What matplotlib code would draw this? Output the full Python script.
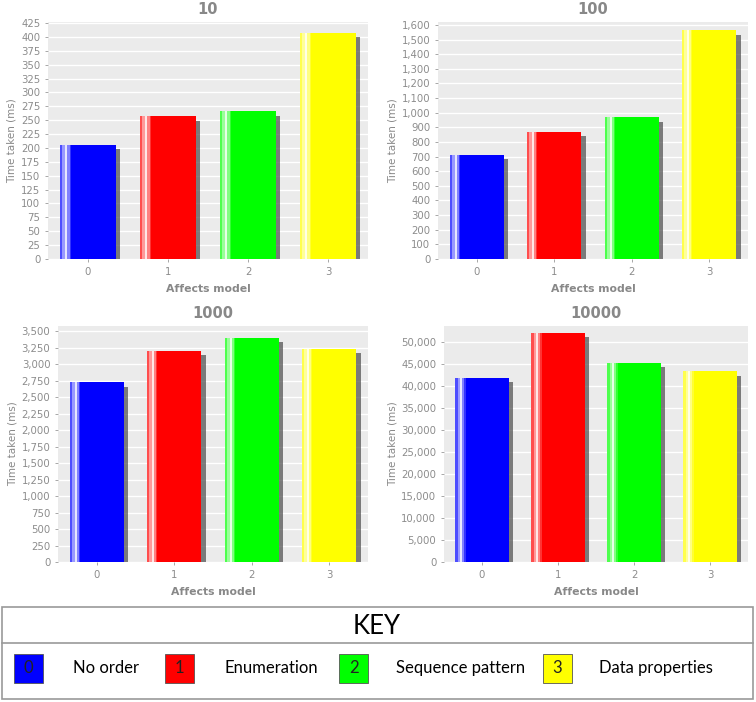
import matplotlib
matplotlib.use("Agg")
import matplotlib.pyplot as plt
import matplotlib.patheffects as pe
import matplotlib.ticker as mticker
from matplotlib.colors import to_rgb
import numpy as np

categories = ["0", "1", "2", "3"]
titles = ["10", "100", "1000", "10000"]
values_10 = [205, 257, 266, 408]
values_100 = [710, 870, 968, 1562]
values_1000 = [2725, 3200, 3405, 3230]
values_10000 = [41800, 52000, 45300, 43300]
bar_colors = ["#0000FF", "#FF0000", "#00FF00", "#FFFF00"]
key_labels = ["No order", "Enumeration", "Sequence pattern", "Data properties"]

ylims = [427, 1620, 3580, 53600]
ysteps = [25, 100, 250, 5000]
all_values = [values_10, values_100, values_1000, values_10000]

W, H = 756, 702
fig = plt.figure(figsize=(W / 100, H / 100), dpi=100)

# axes rectangles in pixels: left, top, right, bottom
rects = [(48, 22, 368, 259), (438, 22, 748, 259),
         (58, 326, 368, 562), (444, 326, 748, 562)]

gray = "#888888"
tick_gray = "#999999"
bar_w = 0.7
# highlight profile: (start frac, end frac, white mix)
profile = [(0.0, 0.04, 0.3), (0.04, 0.09, 0.6), (0.09, 0.13, 0.9),
           (0.13, 0.17, 0.5), (0.17, 0.19, 0.2)]


def mix(c, m):
    r = np.array(to_rgb(c))
    return tuple(r + (1 - r) * m)


for (l, t, r, b), vals, title, ylim, step in zip(rects, all_values, titles, ylims, ysteps):
    ax = fig.add_axes([l / W, 1 - b / H, (r - l) / W, (b - t) / H])
    ax.set_facecolor("#EBEBEB")
    for s in ax.spines.values():
        s.set_visible(False)
    x = np.arange(len(categories))
    bars = ax.bar(x, vals, width=bar_w, color=bar_colors, zorder=3)
    for bar in bars:
        bar.set_path_effects([pe.SimplePatchShadow(offset=(3, -3), shadow_rgbFace="#555555", alpha=0.75),
                              pe.Normal()])
    for xi, v, c in zip(x, vals, bar_colors):
        left = xi - bar_w / 2
        for f0, f1, m in profile:
            ax.bar(left + f0 * bar_w, v, width=(f1 - f0) * bar_w, align="edge",
                   color=mix(c, m), linewidth=0, zorder=4)
    ax.set_xlim(-0.5, 3.5)
    ax.set_ylim(0, ylim)
    ax.yaxis.set_major_locator(mticker.MultipleLocator(step))
    ax.yaxis.set_major_formatter(mticker.FuncFormatter(lambda v, p: f"{int(v):,}"))
    ax.set_xticks(x)
    ax.set_xticklabels(categories)
    ax.grid(axis="y", color="white", linewidth=1.0, zorder=0)
    ax.set_axisbelow(True)
    ax.tick_params(axis="both", colors=tick_gray, labelsize=7.3, length=2, width=0.6,
                   labelcolor="#8c8c8c")
    ax.tick_params(axis="x", pad=4)
    ax.set_xlabel("Affects model", color=gray, fontsize=7.8, fontweight="bold", labelpad=5)
    ax.set_ylabel("Time taken (ms)", color=gray, fontsize=7.5, labelpad=3)
    ax.set_title(title, color=gray, fontsize=10.5, fontweight="bold", pad=6)

# KEY box
kax = fig.add_axes([0, 0, 1, 1], facecolor="none")
kax.set_xlim(0, W)
kax.set_ylim(H, 0)
kax.axis("off")
kax.add_patch(plt.Rectangle((2, 607), 751, 92, fill=False, edgecolor="#999999", linewidth=1.2))
kax.plot([2, 753], [643, 643], color="#999999", linewidth=1.2)
kax.text(377, 626, "KEY", ha="center", va="center", fontsize=18.5, color="black",
         family=["Lato", "DejaVu Sans"])
sq_x = [14, 165, 339, 543]
txt_x = [73, 224, 396, 599]
for sx, tx, c, cat, lab in zip(sq_x, txt_x, bar_colors, categories, key_labels):
    kax.add_patch(plt.Rectangle((sx, 654), 29, 29, facecolor=c, edgecolor="#555555", linewidth=0.6))
    kax.text(sx + 14.5, 668, cat, ha="center", va="center", fontsize=12, color="#222222",
             family=["Lato", "DejaVu Sans"])
    kax.text(tx, 668, lab, ha="left", va="center", fontsize=12, color="black",
             family=["Lato", "DejaVu Sans"])

fig.savefig("out.png", dpi=100)
